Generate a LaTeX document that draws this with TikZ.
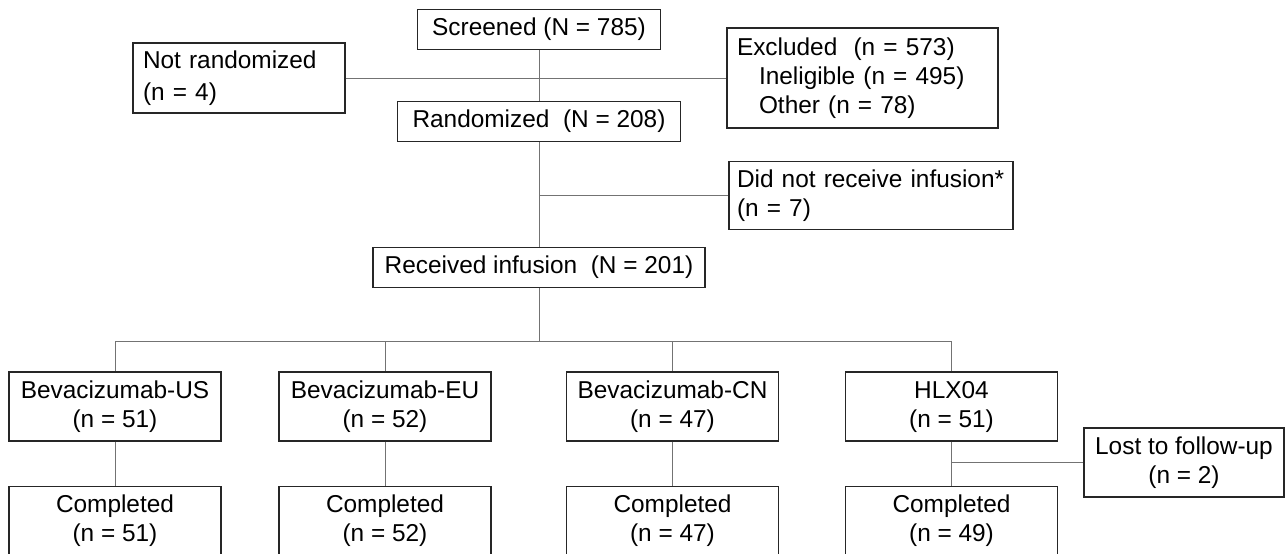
\documentclass[tikz,border=0pt]{standalone}
\usepackage{fontspec}
\setmainfont{Liberation Sans}
\usetikzlibrary{positioning}
\tikzstyle{box} = [rectangle, draw=black!85, line width=0.6pt, inner sep=0pt, font=\fontsize{12.2}{14.5}\selectfont]
\tikzstyle{mainbox} = [box, text centered, minimum height=20pt]
\tikzstyle{sidebox} = [box, align=left, inner xsep=5pt]
\tikzstyle{armbox} = [box, align=center, minimum width=106pt, minimum height=34.5pt]
\tikzstyle{line} = [draw=black!55, line width=0.5pt]

\begin{document}
\begin{tikzpicture}[x=0.5pt, y=-0.5pt]
\useasboundingbox (0,0) rectangle (1285,553);
\node (scr) [mainbox, minimum width=121.5pt] at (539,29.5) {Screened (N = 785)};
\node (notr) [sidebox, text width=96pt, minimum height=35pt, font=\fontsize{12.2}{16}\selectfont] at (239,78) {Not randomized\\(n = 4)};
\node (excl) [sidebox, text width=125.5pt, minimum height=50pt] at (862.5,78) {Excluded\ \ (n = 573)\\\hspace*{11pt}Ineligible (n = 495)\\\hspace*{11pt}Other (n = 78)};
\node (rand) [mainbox, minimum width=141.5pt] at (539,121.5) {Randomized\ \ (N = 208)};
\node (didnot) [sidebox, text width=134pt, inner xsep=4pt, minimum height=34pt] at (871,195.5) {Did not receive infusion*\\(n = 7)};
\node (recv) [mainbox, minimum width=166pt] at (539,267.5) {Received infusion\ \ (N = 201)};
\coordinate (split) at (539,341);
% treatment arms
\node (us) [armbox] at (115,406.5) {Bevacizumab-US\\(n = 51)};
\node (eu) [armbox] at (385,406.5) {Bevacizumab-EU\\(n = 52)};
\node (cn) [armbox] at (672.5,406.5) {Bevacizumab-CN\\(n = 47)};
\node (hlx) [armbox] at (951.5,406.5) {HLX04\\(n = 51)};
\node (comp1) [armbox, below=22pt of us] {Completed\\(n = 51)};
\node (comp2) [armbox, below=22pt of eu] {Completed\\(n = 52)};
\node (comp3) [armbox, below=22pt of cn] {Completed\\(n = 47)};
\node (comp4) [armbox, below=22pt of hlx] {Completed\\(n = 49)};
\node (lost) [armbox, minimum width=100pt] at (1184,462.5) {Lost to follow-up\\(n = 2)};
\draw [line] (scr) -- (rand);
\draw [line] (notr) -- (excl);
\draw [line] (rand) -- (recv);
\draw [line] (rand.south |- didnot.west) -- (didnot);
\draw [line] (recv) -- (split);
\draw [line] (us.north |- split) -- (hlx.north |- split);
\foreach \arm/\done in {us/comp1, eu/comp2, cn/comp3, hlx/comp4} {
  \draw [line] (\arm.north |- split) -- (\arm);
  \draw [line] (\arm) -- (\done);
}
\draw [line] (hlx.south |- lost.west) -- (lost);
\end{tikzpicture}
\end{document}
